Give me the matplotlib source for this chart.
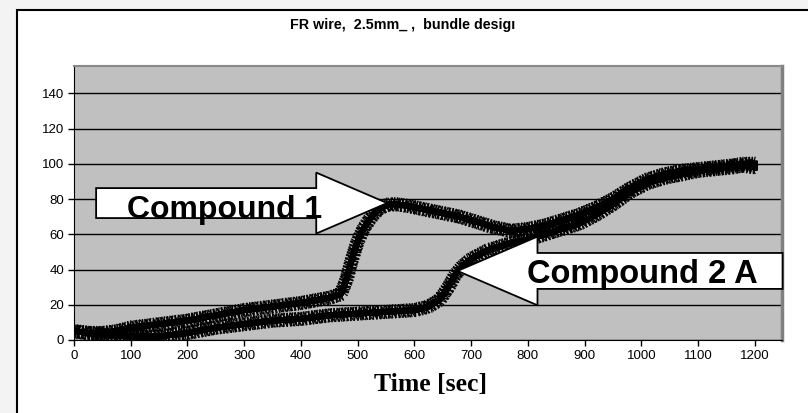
import matplotlib
matplotlib.use('Agg')
import matplotlib.pyplot as plt
import matplotlib.patheffects as pe
from matplotlib.patches import Rectangle, Polygon

# data (time in sec, value)
c1_time = [0, 25, 50, 75, 100, 150, 200, 250, 300, 350, 400, 450, 470, 480, 490, 500,
           510, 520, 530, 540, 555, 570, 590, 620, 650, 680, 710, 740, 770, 800, 830,
           860, 890, 920, 950, 980, 1010, 1040, 1070, 1100, 1130, 1160, 1180, 1200]
c1_vals = [5, 4, 4, 5, 7, 9, 11, 14, 17, 19, 21, 24, 26, 34, 46, 56,
           63, 68, 72, 75, 77, 77, 76, 74, 72, 70, 67, 64, 62, 63, 65,
           68, 71, 75, 80, 86, 91, 94, 96, 97, 98, 99, 100, 100]

c2_time = [0, 25, 50, 100, 150, 200, 250, 300, 350, 400, 450, 500, 550, 600, 625, 645,
           660, 672, 685, 700, 730, 770, 800, 830, 860, 890, 920, 950, 980, 1010, 1040,
           1070, 1100, 1130, 1160, 1180, 1200]
c2_vals = [5, 4, 3, 2, 2, 4, 7, 9, 11, 12, 14, 15, 16, 17, 19, 23,
           30, 37, 42, 46, 51, 55, 57, 60, 63, 66, 71, 77, 84, 89, 92,
           94, 96, 97, 98, 99, 98]

title = 'FR wire,  2.5mm_ ,  bundle desig\u0131'
xlabel = 'Time [sec]'
x_ticks = list(range(0, 1201, 100))
y_ticks = list(range(0, 141, 20))


def block_arrow(ax, tail, tip, yc, body, head, head_len):
    d = 1 if tip > tail else -1
    base = tip - d * head_len
    pts = [(tail, yc - body), (base, yc - body), (base, yc - head), (tip, yc),
           (base, yc + head), (base, yc + body), (tail, yc + body)]
    ax.add_patch(Polygon(pts, closed=True, facecolor='white', edgecolor='black',
                         lw=1.3, zorder=5, clip_on=False))


fig = plt.figure(figsize=(8.08, 4.13), dpi=100)
fig.patch.set_facecolor('#f3f3f3')
fig.patches.append(Rectangle((17 / 808, -0.1), 1.0, 1.1 - 10 / 413,
                             transform=fig.transFigure, facecolor='white',
                             edgecolor='black', lw=1.5, zorder=-10))

ax = fig.add_axes([74 / 808, 73 / 413, 708 / 808, 274 / 413])
ax.set_zorder(5)
ax.set_facecolor('#c0c0c0')

# hairy stroke to mimic the noisy, dense raw signal
hair = [pe.withTickedStroke(spacing=2.0, angle=75, length=2.4, linewidth=0.9),
        pe.withTickedStroke(spacing=2.7, angle=-105, length=1.8, linewidth=0.9),
        pe.withTickedStroke(spacing=3.4, angle=-60, length=1.5, linewidth=0.9),
        pe.withTickedStroke(spacing=3.1, angle=120, length=1.6, linewidth=0.9),
        pe.withTickedStroke(spacing=2.3, angle=-80, length=2.0, linewidth=0.9),
        pe.withTickedStroke(spacing=2.6, angle=95, length=1.7, linewidth=0.9),
        pe.Normal()]

ax.plot(c1_time, c1_vals, color='black', lw=4.2, zorder=3, path_effects=hair,
        solid_joinstyle='round')
ax.plot(c2_time, c2_vals, color='black', lw=4.2, zorder=3, path_effects=hair,
        solid_joinstyle='round')

# callout arrows
block_arrow(ax, 39, 552, 77.7, 8.5, 17.3, 125)
block_arrow(ax, 1249, 676, 39.2, 10.2, 19.5, 141)
ax.text(266, 69.2, 'Compound 1', ha='center', va='baseline', fontsize=23,
        fontweight='bold', family='Liberation Sans', zorder=6)
ax.text(1001, 32.3, 'Compound 2 A', ha='center', va='baseline', fontsize=23.5,
        fontweight='bold', family='Liberation Sans', zorder=6)

ax.set_xlim(0, 1248)
ax.set_ylim(0, 155.5)
ax.set_xticks(x_ticks)
ax.set_yticks(y_ticks)
ax.yaxis.grid(True, color='black', lw=1.0)
ax.set_axisbelow(True)
ax.tick_params(direction='out', length=4, width=1, labelsize=9.5, pad=3)
for lab in ax.get_xticklabels() + ax.get_yticklabels():
    lab.set_family('Liberation Sans')
ax.spines['left'].set_color('black')
ax.spines['bottom'].set_color('black')
ax.spines['top'].set_color('#8a8a8a')
ax.spines['right'].set_color('#808080')
ax.spines['top'].set_linewidth(1.5)
ax.spines['right'].set_linewidth(2.5)

fig.text(403 / 808, 1 - 25 / 413, title, ha='center', va='center', fontsize=10.3,
         fontweight='bold', family='Liberation Sans')
fig.text(430 / 808, 1 - 385 / 413, xlabel, ha='center', va='center', fontsize=18.5,
         fontweight='bold', family='Liberation Serif')

fig.savefig('out.png', dpi=100, facecolor=fig.get_facecolor())
plt.close(fig)
